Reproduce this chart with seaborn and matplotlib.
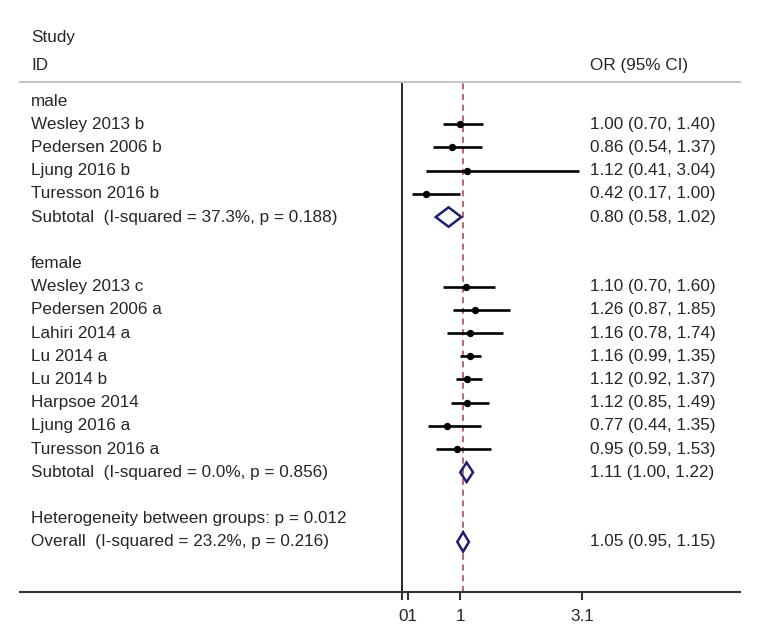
import numpy as np
import pandas as pd
import matplotlib
matplotlib.use("Agg")
import matplotlib.pyplot as plt
import seaborn as sns
from matplotlib.patches import Polygon

# study data
male_studies = ["Wesley 2013 b", "Pedersen 2006 b", "Ljung 2016 b", "Turesson 2016 b"]
male_or = [1.00, 0.86, 1.12, 0.42]
male_lo = [0.70, 0.54, 0.41, 0.17]
male_hi = [1.40, 1.37, 3.04, 1.00]
male_sub = (0.80, 0.58, 1.02)
male_sub_label = "Subtotal  (I-squared = 37.3%, p = 0.188)"

female_studies = ["Wesley 2013 c", "Pedersen 2006 a", "Lahiri 2014 a", "Lu 2014 a",
                  "Lu 2014 b", "Harpsoe 2014", "Ljung 2016 a", "Turesson 2016 a"]
female_or = [1.10, 1.26, 1.16, 1.16, 1.12, 1.12, 0.77, 0.95]
female_lo = [0.70, 0.87, 0.78, 0.99, 0.92, 0.85, 0.44, 0.59]
female_hi = [1.60, 1.85, 1.74, 1.35, 1.37, 1.49, 1.35, 1.53]
female_sub = (1.11, 1.00, 1.22)
female_sub_label = "Subtotal  (I-squared = 0.0%, p = 0.856)"

het_label = "Heterogeneity between groups: p = 0.012"
overall = (1.05, 0.95, 1.15)
overall_label = "Overall  (I-squared = 23.2%, p = 0.216)"

tick_vals = [0, 0.1, 1, 3.1]
tick_labels = ["", "01", "1", "3.1"]

# build the table of rows
studies = []
summaries = []
headers = []
r = 0
for group, names, ors, los, his, sub, sub_label in [
        ("male", male_studies, male_or, male_lo, male_hi, male_sub, male_sub_label),
        ("female", female_studies, female_or, female_lo, female_hi, female_sub, female_sub_label)]:
    headers.append((group, r))
    r += 1
    for n, o, lo, hi in zip(names, ors, los, his):
        studies.append(dict(label=n, est=o, lo=lo, hi=hi, row=r))
        r += 1
    summaries.append(dict(label=sub_label, est=sub[0], lo=sub[1], hi=sub[2], row=r, overall=False))
    r += 2
headers.append((het_label, r))
r += 1
summaries.append(dict(label=overall_label, est=overall[0], lo=overall[1], hi=overall[2], row=r, overall=True))

study_df = pd.DataFrame(studies)
sum_df = pd.DataFrame(summaries)

sns.set_style("white")
plt.rcParams['font.family'] = ['Liberation Sans', 'DejaVu Sans']
fs = 12.3

fig = plt.figure(figsize=(7.57, 6.37), dpi=100)
ax = fig.add_axes([20 / 757, 45 / 637, 720 / 757, 510 / 637])
ax.set_xlim((20 - 402) / 58.2, (740 - 402) / 58.2)
ax.set_ylim(21.16, -0.82)

navy = "#1f1f70"

# reference lines
ax.axvline(0, color="black", lw=1.2, zorder=1)
ax.axvline(overall[0], color="#a3404d", lw=1.1, ls=(0, (4, 3)), zorder=1)

# study CIs and points
ax.hlines(study_df["row"], study_df["lo"], study_df["hi"], color="black", lw=1.9, zorder=2)
sns.scatterplot(data=study_df, x="est", y="row", color="black", s=28,
                edgecolor="black", linewidth=0, ax=ax, zorder=3, legend=False)

# diamonds
h = 0.42
for _, s in sum_df.iterrows():
    pts = [[s["lo"], s["row"]], [s["est"], s["row"] - h], [s["hi"], s["row"]], [s["est"], s["row"] + h]]
    ax.add_patch(Polygon(pts, closed=True, facecolor="white" if s["overall"] else "none",
                         edgecolor=navy, lw=1.8, zorder=4))

# text columns
tr = ax.get_yaxis_transform()
left_x = (31 - 20) / 720
right_x = (590 - 20) / 720
ax.text(left_x, (37 - 101) / 23.2, "Study", transform=tr, fontsize=fs, va="center", clip_on=False)
ax.text(left_x, (65 - 101) / 23.2, "ID", transform=tr, fontsize=fs, va="center", clip_on=False)
ax.text(right_x, (65 - 101) / 23.2, "OR (95% CI)", transform=tr, fontsize=fs, va="center", clip_on=False)

for label, row in headers:
    ax.text(left_x, row, label, transform=tr, fontsize=fs, va="center")
for df in (study_df, sum_df):
    for _, s in df.iterrows():
        ax.text(left_x, s["row"], s["label"], transform=tr, fontsize=fs, va="center")
        ax.text(right_x, s["row"], f"{s['est']:.2f} ({s['lo']:.2f}, {s['hi']:.2f})",
                transform=tr, fontsize=fs, va="center")

# axes styling
ax.set_yticks([])
ax.set_xticks(tick_vals)
ax.set_xticklabels(tick_labels)
ax.tick_params(axis="x", direction="out", length=6, width=1.5, labelsize=fs, pad=6,
               bottom=True, color="#333333")
ax.set_xlabel("")
ax.set_ylabel("")
for side in ("left", "right"):
    ax.spines[side].set_visible(False)
ax.spines["top"].set_color("#c4c4c4")
ax.spines["top"].set_linewidth(1.5)
ax.spines["bottom"].set_color("#333333")
ax.spines["bottom"].set_linewidth(1.5)

fig.savefig("out.png", dpi=100, facecolor="white")
